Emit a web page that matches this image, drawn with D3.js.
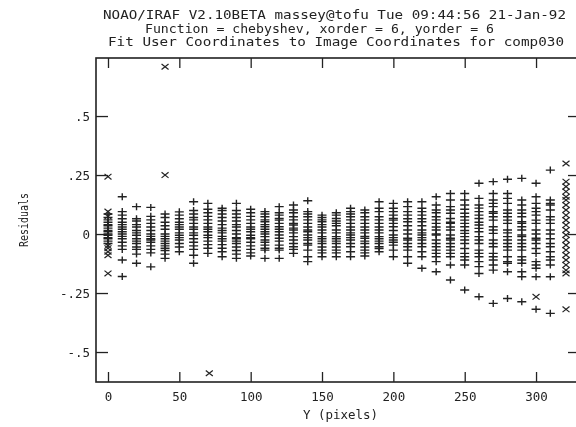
<!DOCTYPE html>
<html><head><meta charset="utf-8">
<script src="https://cdn.jsdelivr.net/npm/d3@7"></script>
<style>html,body{margin:0;padding:0;background:#fff;overflow:hidden}</style>
</head><body><svg id="c" width="576" height="427"></svg>
<script>
// ---------- data ----------
const titleLines = [
  "NOAO/IRAF V2.10BETA massey@tofu Tue 09:44:56 21-Jan-92",
  "Function = chebyshev, xorder = 6, yorder = 6",
  "Fit User Coordinates to Image Coordinates for comp030"
];
const xLabel = "Y (pixels)";
const yLabel = "Residuals";
const xTicks = [0, 50, 100, 150, 200, 250, 300];
const yTicks = [-0.5, -0.25, 0, 0.25, 0.5];
const yTickLabels = ["-.5", "-.25", "0", ".25", ".5"];

const colX = [0, 10, 20, 30, 40, 50, 60, 70, 80, 90, 100, 110, 120, 130, 140, 150,
              160, 170, 180, 190, 200, 210, 220, 230, 240, 250, 260, 270, 280, 290, 300, 310];

const fitResiduals = [
  [0.085, 0.07, 0.06, 0.05, 0.04, 0.035, 0.025, 0.015, 0.01, 0.0, -0.005, -0.015, -0.02, -0.03, -0.04],
  [0.158, 0.095, 0.08, 0.065, 0.05, 0.04, 0.03, 0.02, 0.01, 0.0, -0.01, -0.02, -0.035, -0.05, -0.065, -0.11, -0.18],
  [0.116, 0.065, 0.055, 0.04, 0.03, 0.015, 0.005, -0.005, -0.02, -0.03, -0.04, -0.055, -0.065, -0.085, -0.124],
  [0.113, 0.075, 0.06, 0.045, 0.03, 0.015, 0.0, -0.01, -0.02, -0.025, -0.035, -0.05, -0.065, -0.08, -0.139],
  [0.085, 0.07, 0.05, 0.035, 0.02, 0.0, -0.01, -0.02, -0.03, -0.04, -0.05, -0.06, -0.07, -0.085, -0.103],
  [0.094, 0.08, 0.065, 0.05, 0.04, 0.03, 0.02, 0.005, -0.005, -0.015, -0.025, -0.04, -0.055, -0.075],
  [0.137, 0.1, 0.085, 0.07, 0.06, 0.045, 0.03, 0.02, 0.005, -0.005, -0.02, -0.035, -0.05, -0.065, -0.09, -0.124],
  [0.13, 0.105, 0.09, 0.075, 0.06, 0.045, 0.03, 0.02, 0.01, -0.005, -0.015, -0.03, -0.045, -0.06, -0.082],
  [0.109, 0.1, 0.085, 0.07, 0.055, 0.04, 0.025, 0.015, 0.005, -0.01, -0.02, -0.03, -0.045, -0.06, -0.075, -0.096],
  [0.13, 0.1, 0.085, 0.07, 0.055, 0.04, 0.03, 0.015, 0.0, -0.015, -0.02, -0.03, -0.04, -0.055, -0.07, -0.085, -0.103],
  [0.105, 0.09, 0.075, 0.06, 0.045, 0.03, 0.02, 0.01, -0.005, -0.015, -0.02, -0.035, -0.05, -0.065, -0.08, -0.093],
  [0.095, 0.085, 0.073, 0.06, 0.052, 0.04, 0.031, 0.02, 0.01, 0.0, -0.011, -0.025, -0.035, -0.047, -0.06, -0.068, -0.103],
  [0.116, 0.09, 0.08, 0.066, 0.059, 0.045, 0.031, 0.02, 0.01, -0.004, -0.018, -0.03, -0.047, -0.06, -0.068, -0.103],
  [0.123, 0.102, 0.09, 0.073, 0.06, 0.045, 0.038, 0.025, 0.017, 0.005, -0.011, -0.025, -0.04, -0.054, -0.065, -0.082],
  [0.141, 0.095, 0.085, 0.073, 0.06, 0.045, 0.03, 0.017, 0.01, -0.004, -0.015, -0.025, -0.04, -0.047, -0.068, -0.096, -0.117],
  [0.08, 0.07, 0.06, 0.052, 0.04, 0.03, 0.017, 0.005, -0.011, -0.02, -0.03, -0.04, -0.055, -0.068, -0.08, -0.096],
  [0.09, 0.08, 0.066, 0.055, 0.045, 0.035, 0.017, 0.005, -0.011, -0.02, -0.03, -0.04, -0.055, -0.068, -0.08, -0.096],
  [0.109, 0.095, 0.085, 0.073, 0.06, 0.045, 0.03, 0.017, 0.005, -0.004, -0.015, -0.025, -0.04, -0.054, -0.075, -0.096],
  [0.102, 0.09, 0.073, 0.06, 0.045, 0.03, 0.017, 0.005, -0.01, -0.018, -0.03, -0.04, -0.055, -0.068, -0.08, -0.093],
  [0.137, 0.109, 0.095, 0.073, 0.06, 0.045, 0.03, 0.017, 0.005, -0.011, -0.02, -0.03, -0.04, -0.054, -0.061, -0.075],
  [0.13, 0.109, 0.095, 0.08, 0.066, 0.059, 0.045, 0.031, 0.015, -0.004, -0.015, -0.025, -0.035, -0.047, -0.068, -0.096],
  [0.137, 0.116, 0.095, 0.08, 0.065, 0.052, 0.035, 0.017, 0.0, -0.018, -0.025, -0.04, -0.054, -0.068, -0.096, -0.124],
  [0.137, 0.109, 0.095, 0.08, 0.065, 0.052, 0.035, 0.017, 0.005, -0.004, -0.015, -0.025, -0.04, -0.054, -0.075, -0.096, -0.145],
  [0.158, 0.123, 0.102, 0.09, 0.073, 0.06, 0.045, 0.03, 0.017, 0.0, -0.004, -0.025, -0.04, -0.054, -0.068, -0.082, -0.096, -0.117, -0.16],
  [0.172, 0.144, 0.116, 0.102, 0.088, 0.066, 0.05, 0.045, 0.03, 0.017, -0.004, -0.018, -0.025, -0.04, -0.054, -0.068, -0.082, -0.096, -0.131, -0.195],
  [0.172, 0.144, 0.123, 0.105, 0.088, 0.073, 0.059, 0.045, 0.031, 0.015, 0.003, -0.011, -0.025, -0.04, -0.061, -0.082, -0.096, -0.11, -0.131, -0.237],
  [0.215, 0.151, 0.123, 0.11, 0.095, 0.08, 0.066, 0.05, 0.038, 0.024, 0.01, -0.011, -0.025, -0.04, -0.068, -0.082, -0.096, -0.117, -0.138, -0.167, -0.266],
  [0.222, 0.172, 0.144, 0.13, 0.116, 0.095, 0.088, 0.073, 0.059, 0.031, 0.017, 0.003, -0.025, -0.04, -0.054, -0.082, -0.096, -0.11, -0.131, -0.153, -0.294],
  [0.232, 0.172, 0.151, 0.13, 0.102, 0.088, 0.073, 0.059, 0.045, 0.017, 0.005, -0.011, -0.025, -0.04, -0.054, -0.068, -0.096, -0.117, -0.124, -0.16, -0.273],
  [0.236, 0.144, 0.123, 0.102, 0.088, 0.073, 0.052, 0.045, 0.031, 0.017, -0.004, -0.011, -0.025, -0.04, -0.054, -0.068, -0.096, -0.11, -0.124, -0.16, -0.181, -0.287],
  [0.215, 0.158, 0.13, 0.109, 0.095, 0.08, 0.059, 0.045, 0.017, 0.0, -0.018, -0.025, -0.04, -0.061, -0.082, -0.117, -0.131, -0.145, -0.181, -0.319],
  [0.271, 0.144, 0.13, 0.123, 0.102, 0.073, 0.06, 0.045, 0.017, 0.0, -0.02, -0.04, -0.054, -0.075, -0.096, -0.11, -0.131, -0.181, -0.336]
];

// deleted (rejected) points, drawn as x
const deletedX = [0, 0, 0, 0, 0, 0, 0, 0, 40, 40, 71, 300,
  321, 321, 321, 321, 321, 321, 321, 321, 321, 321, 321, 321, 321, 321, 321, 321, 321, 321, 321, 321, 321, 321];
const deletedY = [0.243, 0.095, 0.075, -0.05, -0.06, -0.075, -0.09, -0.167, 0.25, 0.709, -0.59, -0.266,
  0.299, 0.222, 0.201, 0.18, 0.158, 0.144, 0.123, 0.102, 0.08, 0.059, 0.038, 0.017, -0.004, -0.025,
  -0.047, -0.068, -0.089, -0.11, -0.131, -0.153, -0.167, -0.319];

// ---------- drawing ----------
const W = 576, H = 427;
const L = 96, T = 58, R = 578, B = 382;
const FONT = "'DejaVu Sans Mono', 'Liberation Mono', monospace";
const INK = "#222";

const svg = d3.select("#c");
svg.append("rect").attr("width", W).attr("height", H).attr("fill", "#fff");
const defs = svg.append("defs");
defs.append("filter").attr("id", "soft").attr("x", "-5%").attr("y", "-5%").attr("width", "110%").attr("height", "110%")
  .append("feGaussianBlur").attr("stdDeviation", 0.45);

const g = svg.append("g").attr("filter", "url(#soft)");

const x = d3.scaleLinear().domain([-8.4, 329.4]).range([L, R]);
const y = d3.scaleLinear().domain([-0.627, 0.746]).range([B, T]);

// titles
const titleSpec = [
  {x0: 103, len: 463, base: 19},
  {x0: 145, len: 349, base: 32.5},
  {x0: 108, len: 456, base: 45.5}
];
titleLines.forEach((t, i) => {
  g.append("text").attr("x", titleSpec[i].x0).attr("y", titleSpec[i].base)
    .attr("font-family", FONT).attr("font-size", 11.5).attr("fill", INK)
    .attr("textLength", titleSpec[i].len).attr("lengthAdjust", "spacingAndGlyphs")
    .text(t);
});

// axes (inward ticks)
function styleAxis(sel) {
  sel.select(".domain").remove();
  sel.selectAll(".tick line").attr("stroke", INK).attr("stroke-width", 1.3);
  sel.selectAll(".tick text").attr("font-family", FONT).attr("font-size", 12.5).attr("fill", INK);
}
g.append("g").attr("transform", `translate(0,${B})`)
  .call(d3.axisBottom(x).tickValues(xTicks).tickSize(-10).tickPadding(10).tickFormat(d3.format("d")))
  .call(styleAxis);
g.append("g").attr("transform", `translate(0,${T})`)
  .call(d3.axisTop(x).tickValues(xTicks).tickSize(-10).tickFormat(""))
  .call(styleAxis);
g.append("g").attr("transform", `translate(${L},0)`)
  .call(d3.axisLeft(y).tickValues(yTicks).tickSize(-12).tickPadding(6)
    .tickFormat((d, i) => yTickLabels[i]))
  .call(styleAxis);
g.append("g").attr("transform", `translate(${R},0)`)
  .call(d3.axisRight(y).tickValues(yTicks).tickSize(-10).tickFormat(""))
  .call(styleAxis);

// frame
g.append("rect").attr("x", L).attr("y", T).attr("width", R - L).attr("height", B - T)
  .attr("fill", "none").attr("stroke", INK).attr("stroke-width", 1.6);

// axis labels
g.append("text").attr("x", 303).attr("y", 419)
  .attr("font-family", FONT).attr("font-size", 11.5).attr("fill", INK)
  .attr("textLength", 75).attr("lengthAdjust", "spacingAndGlyphs").text(xLabel);
g.append("text").attr("transform", `translate(28,${(T + B) / 2}) rotate(-90)`)
  .attr("text-anchor", "middle")
  .attr("font-family", FONT).attr("font-size", 12.5).attr("fill", INK)
  .attr("textLength", 54).attr("lengthAdjust", "spacingAndGlyphs").text(yLabel);

// fit points (+)
const plusPts = [];
colX.forEach((cx, i) => fitResiduals[i].forEach(r => plusPts.push([cx, r])));
g.append("g").selectAll("path.p").data(plusPts).join("path")
  .attr("transform", d => `translate(${x(d[0])},${y(d[1])})`)
  .attr("d", "M-4.5,0H4.5M0,-3.5V3.5")
  .attr("stroke", INK).attr("stroke-width", 1.4).attr("fill", "none");

// deleted points (x)
const xPts = deletedX.map((d, i) => [d, deletedY[i]]);
g.append("g").selectAll("path.x").data(xPts).join("path")
  .attr("transform", d => `translate(${x(d[0])},${y(d[1])})`)
  .attr("d", "M-3.5,-2.8L3.5,2.8M-3.5,2.8L3.5,-2.8")
  .attr("stroke", INK).attr("stroke-width", 1.2).attr("fill", "none");
</script>
</body></html>
